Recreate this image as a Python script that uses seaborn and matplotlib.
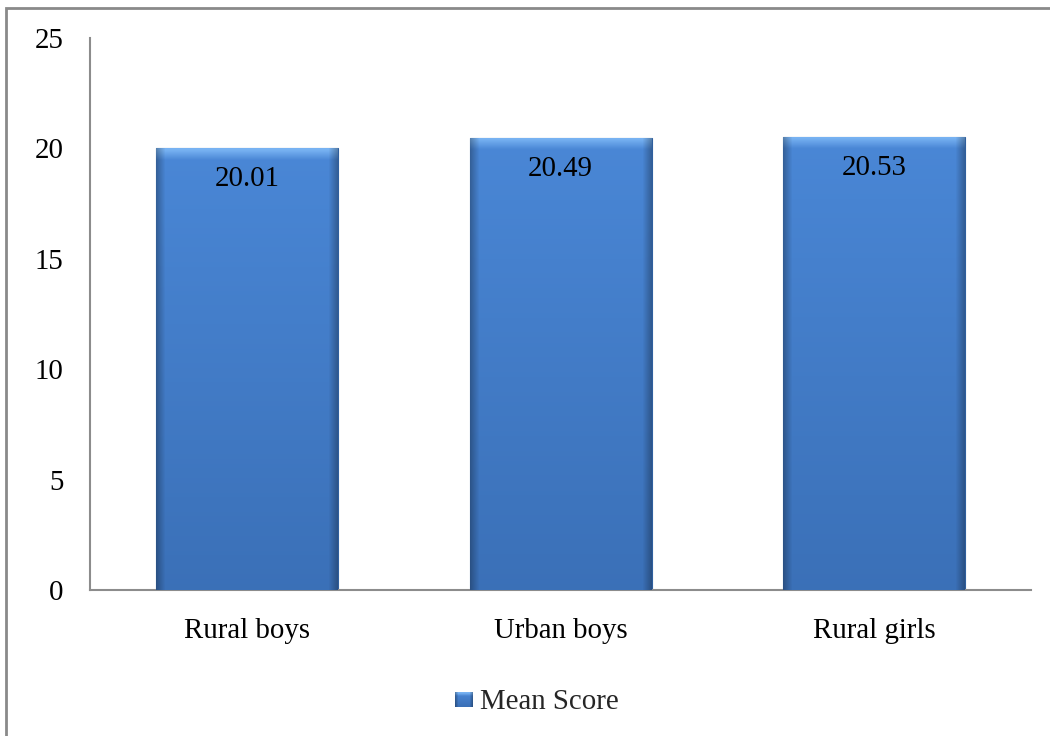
import numpy as np
import pandas as pd
import matplotlib
matplotlib.use("Agg")
import matplotlib.pyplot as plt
from matplotlib.patches import Rectangle
import seaborn as sns

categories = ["Rural boys", "Urban boys", "Rural girls"]
mean_scores = [20.01, 20.49, 20.53]
y_ticks = [0, 5, 10, 15, 20, 25]
series_name = "Mean Score"

df = pd.DataFrame({"group": categories, "score": mean_scores})

sns.set_theme(style="white")
plt.rcParams["font.family"] = ["Liberation Serif", "DejaVu Serif"]

FS = 20.8

fig = plt.figure(figsize=(10.5, 7.36), dpi=100)
ax = fig.add_axes([0.0857, 0.1984, 0.8963, 0.75])

sns.barplot(data=df, x="group", y="score", color="#4a84d4", width=0.58,
            saturation=1, ax=ax, zorder=2)


def bevel_image(h=440, w=182, rim=10, side=9):
    # vertical shading: light rim at the top, slightly darker toward the base
    rim_col = np.array([0.47, 0.70, 0.95])
    mid = np.array([0.29, 0.53, 0.84])
    low = np.array([0.23, 0.44, 0.72])
    rows = np.arange(h)[:, None]
    t = (rows / (h - 1))[..., None]
    img = np.repeat(mid[None, None, :] * (1 - t) + low[None, None, :] * t, w, axis=1)
    # bright top bevel fading into the face
    fade = np.clip(1.15 - rows / rim, 0, 1)[..., None]
    img = img * (1 - fade) + rim_col[None, None, :] * fade
    # darker bevel along left and right sides
    cols = np.arange(w)
    d = np.minimum(cols, w - 1 - cols)
    edge = np.clip(1 - d / side, 0, 1) * 0.28
    img = img * (1 - edge[None, :, None])
    return np.clip(img, 0, 1)


img = bevel_image()
for p in ax.patches:
    x0, y0 = p.get_x(), p.get_y()
    w, h = p.get_width(), p.get_height()
    im = ax.imshow(img, extent=[x0, x0 + w, y0, y0 + h], aspect="auto",
                   origin="upper", zorder=3, interpolation="bilinear")
    im.set_clip_path(p)
    p.set_edgecolor("#2f5f9e")
    p.set_linewidth(0.8)

ax.set_xlim(-0.5, 2.5)
ax.set_ylim(0, 25)
ax.set_yticks(y_ticks)
ax.set_yticklabels([str(v) for v in y_ticks])
ax.set_xlabel("")
ax.set_ylabel("")

for i, v in enumerate(mean_scores):
    ax.annotate(f"{v:.2f}", xy=(i, v), xytext=(0, -31), textcoords="offset pixels",
                ha="center", va="center", fontsize=FS, color="black", zorder=5)

for side in ["top", "right"]:
    ax.spines[side].set_visible(False)
for side in ["left", "bottom"]:
    ax.spines[side].set_color("#8c8c8c")
    ax.spines[side].set_linewidth(1.5)
ax.tick_params(axis="both", length=0, labelsize=FS, colors="black")
ax.tick_params(axis="y", pad=19)
ax.tick_params(axis="x", pad=20)
ax.set_facecolor("white")

# legend entry below the plot
icon = fig.add_axes([455 / 1050, 29 / 736, 18 / 1050, 15 / 736])
icon.imshow(bevel_image(15, 18, rim=3, side=3), aspect="auto", interpolation="bilinear")
icon.axis("off")
fig.text(480 / 1050, 1 - 702 / 736, series_name, fontsize=FS, va="center", ha="left")

# outer frame
fig.add_artist(Rectangle((6 / 1050, -0.1), 1.2, (736 - 8) / 736 + 0.1,
                         transform=fig.transFigure, fill=False,
                         edgecolor="#8a8a8a", linewidth=2.0))

fig.savefig("out.png", dpi=100, facecolor="white")
